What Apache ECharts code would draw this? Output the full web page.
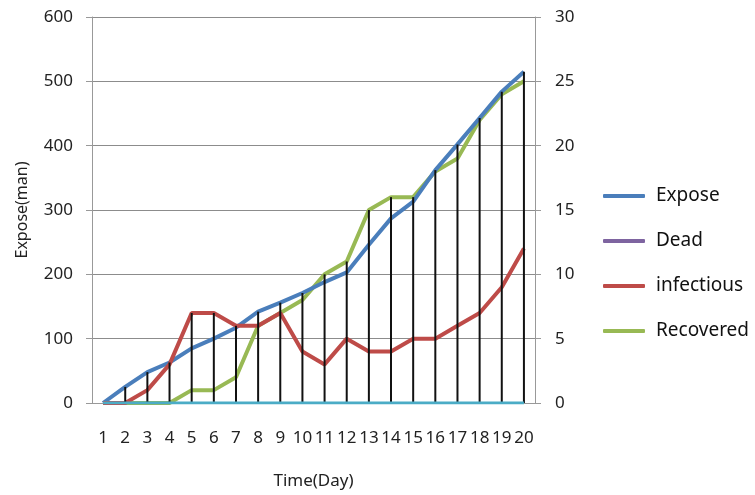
<!DOCTYPE html>
<html>
<head>
<meta charset="utf-8">
<script src="https://cdn.jsdelivr.net/npm/echarts@6/dist/echarts.min.js"></script>
<style>html,body{margin:0;padding:0;background:#fff}#c{width:755px;height:495px}</style>
</head>
<body>
<div id="c"></div>
<script>
const days = ['1','2','3','4','5','6','7','8','9','10','11','12','13','14','15','16','17','18','19','20'];
const expose = [0,25,48,63,85,100,117,142,156,171,188,203,246,287,313,362,402,443,484,515];
const dead = [0,0,0,0,0,0,0,0,0,0,0,0,0,0,0,0,0,0,0,0];
const infectious = [0,0,1,3,7,7,6,6,7,4,3,5,4,4,5,5,6,7,9,12];
const recovered = [0,0,0,0,1,1,2,6,7,8,10,11,15,16,16,18,19,22,24,25];
const leftTicks = [0,600,100];
const rightTicks = [0,30,5];

// high-low line: from 0 (Dead) up to the highest series value at each day, in left-axis units
const ratio = leftTicks[1] / rightTicks[1];
const highLow = days.map((d,i)=>Math.max(expose[i], infectious[i]*ratio, recovered[i]*ratio, dead[i]*ratio));

const FONT = '"Noto Sans", "Open Sans", sans-serif';
const chart = echarts.init(document.getElementById('c'));
chart.setOption({
  animation:false,
  textStyle:{fontFamily:FONT},
  grid:{left:92,right:220,top:17,bottom:82},
  legend:{
    orient:'vertical', left:598, top:180, itemGap:23,
    itemWidth:42, itemHeight:4, icon:'roundRect',
    textStyle:{fontSize:19, color:'#111', fontFamily:FONT, lineHeight:22, padding:[0,0,0,6]},
    data:[
      {name:'Expose', itemStyle:{color:'#4a7ebb'}},
      {name:'Dead', itemStyle:{color:'#7e64a0'}},
      {name:'infectious', itemStyle:{color:'#be4b48'}},
      {name:'Recovered', itemStyle:{color:'#98b954'}}
    ]
  },
  xAxis:{
    type:'category', data:days, boundaryGap:true,
    name:'Time(Day)', nameLocation:'middle', nameGap:70,
    nameTextStyle:{fontSize:17, color:'#222', fontFamily:FONT},
    axisLine:{lineStyle:{color:'#999', width:1}},
    axisTick:{show:false},
    axisLabel:{interval:0, fontSize:17, color:'#222', margin:27, fontFamily:FONT}
  },
  yAxis:[
    {type:'value', min:leftTicks[0], max:leftTicks[1], interval:leftTicks[2],
     name:'Expose(man)', nameLocation:'middle', nameGap:62, nameRotate:90,
     nameTextStyle:{fontSize:16, color:'#222', fontFamily:FONT},
     axisLine:{show:true, lineStyle:{color:'#999'}},
     axisTick:{show:true, inside:false, length:6, lineStyle:{color:'#999'}},
     axisLabel:{fontSize:17, color:'#222', margin:19, fontFamily:FONT},
     splitLine:{lineStyle:{color:'#8c8c8c', width:1}}},
    {type:'value', min:rightTicks[0], max:rightTicks[1], interval:rightTicks[2], position:'right',
     axisLine:{show:true, lineStyle:{color:'#999'}},
     axisTick:{show:true, inside:false, length:6, lineStyle:{color:'#999'}},
     axisLabel:{fontSize:17, color:'#222', margin:20, fontFamily:FONT},
     splitLine:{show:false}}
  ],
  series:[
    {name:'Expose', type:'line', yAxisIndex:0, data:expose, showSymbol:false, z:3,
     itemStyle:{color:'#4a7ebb'}, lineStyle:{color:'#4a7ebb', width:4}},
    {name:'Dead', type:'line', yAxisIndex:1, data:dead, showSymbol:false, z:6,
     itemStyle:{color:'#7e64a0'}, lineStyle:{color:'#4bacc6', width:3}},
    {name:'infectious', type:'line', yAxisIndex:1, data:infectious, showSymbol:false, z:4,
     itemStyle:{color:'#be4b48'}, lineStyle:{color:'#be4b48', width:4}},
    {name:'Recovered', type:'line', yAxisIndex:1, data:recovered, showSymbol:false, z:2,
     itemStyle:{color:'#98b954'}, lineStyle:{color:'#98b954', width:4}},
    {name:'highlow', type:'bar', yAxisIndex:0, data:highLow, barWidth:2, z:5,
     itemStyle:{color:'#111'}, silent:true}
  ]
});
</script>
</body>
</html>
